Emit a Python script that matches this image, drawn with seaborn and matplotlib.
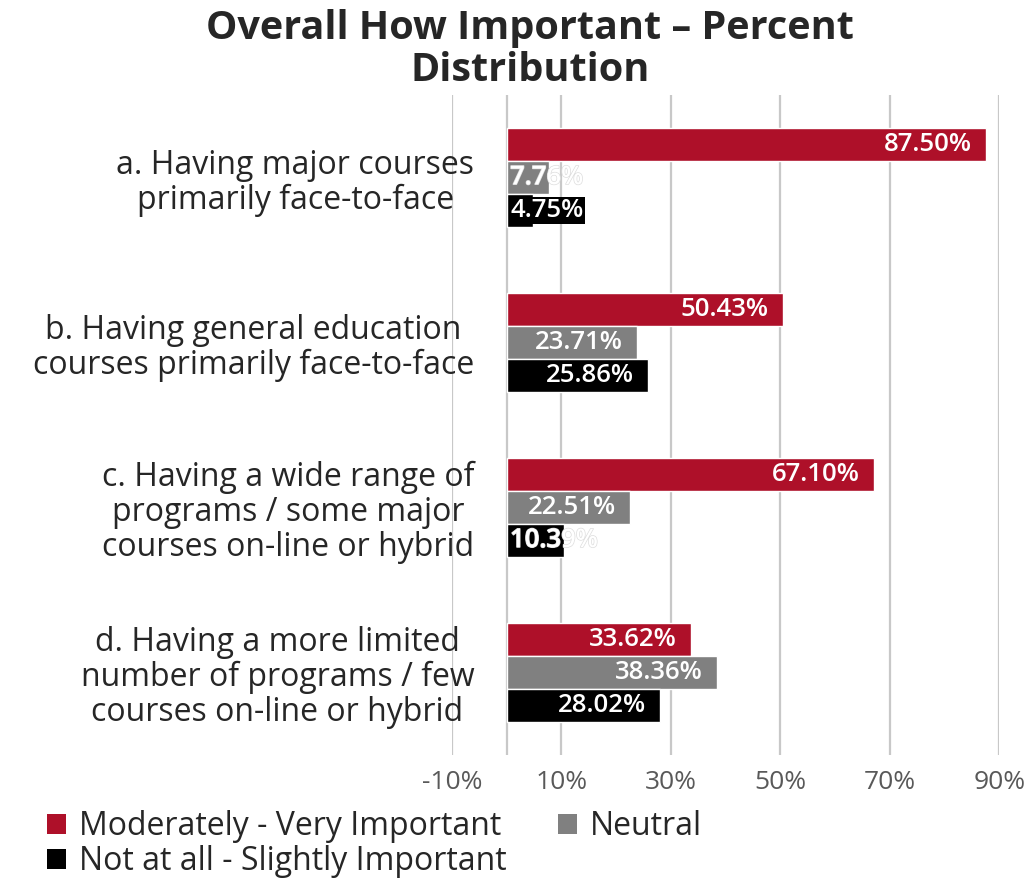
import pandas as pd
import matplotlib.pyplot as plt
import matplotlib.patheffects as pe
import seaborn as sns
from matplotlib.ticker import FuncFormatter
from matplotlib.patches import Patch

# data
items = ["a. Having major courses\nprimarily face-to-face",
         "b. Having general education\ncourses primarily face-to-face",
         "c. Having a wide range of\nprograms / some major\ncourses on-line or hybrid",
         "d. Having a more limited\nnumber of programs / few\ncourses on-line or hybrid"]
groups = ["Moderately - Very Important", "Neutral", "Not at all - Slightly Important"]
important = [87.50, 50.43, 67.10, 33.62]
neutral = [7.76, 23.71, 22.51, 38.36]
not_important = [4.75, 25.86, 10.39, 28.02]
colors = ["#AE1029", "#808080", "#000000"]

rows = []
for vals, g in zip([important, neutral, not_important], groups):
    for it, v in zip(items, vals):
        rows.append({"item": it, "group": g, "pct": v})
df = pd.DataFrame(rows)

sns.set_style("white")
plt.rcParams['font.family'] = ['Open Sans', 'DejaVu Sans']

fig = plt.figure(figsize=(10.25, 8.82), dpi=100)
ax = fig.add_axes([0.441, 0.144, 0.534, 0.748])

sns.barplot(data=df, y="item", x="pct", hue="group", order=items, hue_order=groups,
            palette=colors, orient="h", width=0.6, ax=ax, saturation=1, legend=False)

ax.set_xlim(-10, 90)
ax.set_ylim(3.5, -0.5)
ax.set_xticks([-10, 10, 30, 50, 70, 90])
ax.xaxis.set_major_formatter(FuncFormatter(lambda v, p: f"{v:.0f}%"))
ax.tick_params(axis="x", labelsize=19, labelcolor="#595959", length=0, pad=11)
ax.tick_params(axis="y", labelsize=23, length=0, pad=-16)
for lab in ax.get_yticklabels():
    lab.set_multialignment("center")
    lab.set_linespacing(1.08)
ax.set_xlabel("")
ax.set_ylabel("")
for s in ax.spines.values():
    s.set_visible(False)
for v in [-10, 0, 10, 30, 50, 70, 90]:
    ax.axvline(v, color="#C8C8C8", lw=1.6, zorder=0)

# value labels
for gi, vals in enumerate([important, neutral, not_important]):
    for i, v in enumerate(vals):
        y = i + (gi - 1) * 0.2
        txt = f"{v:.2f}%"
        if v < 12:
            kw = {}
            if gi == 2 and v < 6:
                kw = dict(bbox=dict(facecolor="black", edgecolor="none", pad=1.0))
            else:
                kw = dict(path_effects=[pe.withStroke(linewidth=1.0, foreground="#DDDDDD")])
            ax.text(0.6, y, txt, ha="left", va="center", color="white",
                    fontsize=18.5, fontweight="semibold", **kw)
        else:
            ax.text(v - 2.6, y, txt, ha="right", va="center", color="white",
                    fontsize=18.5, fontweight="semibold")

fig.suptitle("Overall How Important \u2013 Percent\nDistribution", x=0.517, y=0.99,
             fontsize=28.5, fontweight="bold", linespacing=1.12)

# legend: column-major fill -> row1: Moderately, Neutral; row2: Not at all
order = [0, 2, 1]
handles = [Patch(facecolor=colors[k], edgecolor="none") for k in order]
labels = [groups[k] for k in order]
fig.legend(handles, labels, loc="lower left", bbox_to_anchor=(0.018, -0.028), ncol=2,
           frameon=False, fontsize=23, handlelength=0.6, handleheight=0.6,
           handletextpad=0.4, columnspacing=1.6, labelspacing=0.05)

fig.savefig("out.png", dpi=100)
